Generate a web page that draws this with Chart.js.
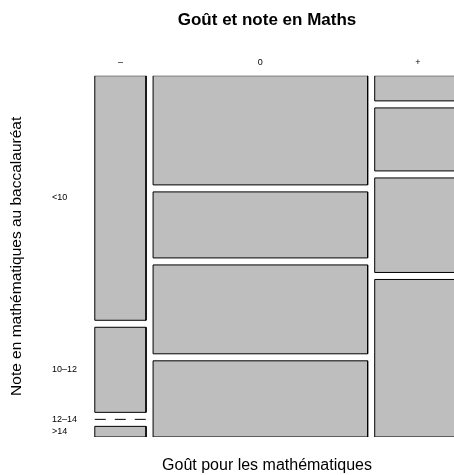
<!DOCTYPE html>
<html>
<head>
<meta charset="utf-8">
<script src="https://cdn.jsdelivr.net/npm/chart.js@4"></script>
<style>
  html, body { margin: 0; padding: 0; background: #fff; }
</style>
</head>
<body>
<canvas id="mosaic" width="454" height="475"></canvas>
<script>
// Mosaic : goût pour les maths (colonnes) x note au bac (lignes)
const gouts = ['–', '0', '+'];
const notes = ['<10', '10–12', '12–14', '>14'];
const effMoins = [23, 8, 0, 1];
const effZero = [43, 26, 35, 30];
const effPlus = [4, 10, 15, 25];

const colonnes = [effMoins, effZero, effPlus];
const gapX = 0.02;
const gapY = 0.0206;
const xMin = -0.042;
const xMax = 1.0196; // la colonne "+" deborde a droite

const somme = arr => arr.reduce((a, b) => a + b, 0);
const total = colonnes.reduce((s, c) => s + somme(c), 0);

const datasets = [];
const xCentres = [];
const yCentres = [];
let x0 = 0;
colonnes.forEach((col, j) => {
  const n = somme(col);
  const w = n / total;
  xCentres.push(x0 + w / 2);
  let y0 = 0;
  col.forEach((v, i) => {
    const h = v / n;
    if (j === 0) yCentres.push(y0 + h / 2);
    if (v === 0) {
      // case vide -> trait pointille
      datasets.push({
        data: [{ x: x0, y: y0 }, { x: x0 + w, y: y0 }],
        borderDash: [11, 9],
        fill: false
      });
    } else {
      datasets.push({
        data: [
          { x: x0, y: y0 }, { x: x0 + w, y: y0 },
          { x: x0 + w, y: y0 + h }, { x: x0, y: y0 + h }, { x: x0, y: y0 }
        ],
        fill: 'shape',
        backgroundColor: '#bebebe'
      });
    }
    y0 += h + gapY;
  });
  x0 += w + gapX;
});

Chart.defaults.font.family = "'Liberation Sans', Arial, sans-serif";
Chart.defaults.color = '#000';

const noGrid = { display: false, drawTicks: false };
const noBorder = { display: false };

new Chart(document.getElementById('mosaic'), {
  type: 'line',
  data: { datasets: datasets },
  options: {
    responsive: false,
    animation: false,
    datasets: {
      line: {
        borderColor: '#000',
        borderWidth: 1,
        pointRadius: 0,
        tension: 0
      }
    },
    layout: { padding: 0 },
    plugins: {
      legend: { display: false },
      tooltip: { enabled: false },
      title: {
        display: true,
        text: 'Goût et note en Maths',
        fullSize: false,
        font: { size: 17, weight: 'bold' },
        padding: { top: 10, bottom: 15 }
      }
    },
    scales: {
      x: {
        type: 'linear',
        position: 'top',
        min: xMin,
        max: xMax,
        grid: noGrid,
        border: noBorder,
        afterBuildTicks: s => { s.ticks = xCentres.map(v => ({ value: v })); },
        ticks: {
          autoSkip: false,
          maxRotation: 0,
          padding: 8,
          font: { size: 9 },
          callback: (v, i) => gouts[i]
        },
        afterFit: s => { s.height = 30.3; }
      },
      x2: {
        type: 'linear',
        position: 'bottom',
        grid: noGrid,
        border: noBorder,
        ticks: { display: false },
        title: {
          display: true,
          text: 'Goût pour les mathématiques',
          font: { size: 16 },
          padding: { top: 0, bottom: 0 }
        },
        afterFit: s => { s.height = 38; }
      },
      y: {
        type: 'linear',
        position: 'left',
        reverse: true,
        min: 0,
        max: 1 + 3 * gapY,
        grid: noGrid,
        border: noBorder,
        afterBuildTicks: s => { s.ticks = yCentres.map(v => ({ value: v })); },
        ticks: {
          autoSkip: false,
          crossAlign: 'far',
          font: { size: 9 },
          callback: (v, i) => notes[i]
        },
        afterFit: s => { s.width = 28; }
      },
      yt: {
        type: 'linear',
        position: 'left',
        weight: 1,
        grid: noGrid,
        border: noBorder,
        ticks: { display: false },
        title: {
          display: true,
          text: 'Note en mathématiques au baccalauréat',
          font: { size: 15.5 },
          padding: { top: 7.5, bottom: 0 }
        },
        afterFit: s => { s.width = 52; }
      }
    }
  }
});
</script>
</body>
</html>
